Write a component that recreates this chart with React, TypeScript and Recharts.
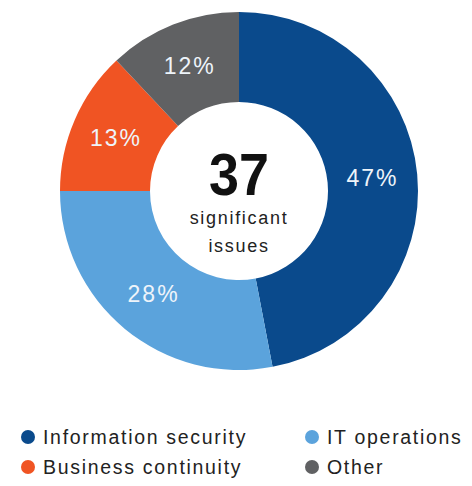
import { Cell, Legend, Pie, PieChart } from "recharts";

const categories = ["Information security", "IT operations", "Business continuity", "Other"];
const shares = [47, 28, 13, 12];
const colors = ["#0a4a8c", "#5ba3dc", "#f05423", "#606163"];
const totalIssues = 37;
const centerLines = ["significant", "issues"];

const data = categories.map((name, i) => ({ name, value: shares[i] }));

const FONT = "Arial, 'Liberation Sans', Helvetica, sans-serif";
const RAD = Math.PI / 180;
const CX = 239;
const CY = 191;

function SliceLabel(props: any) {
  const { cx, cy, midAngle, innerRadius, outerRadius, value } = props;
  const r = (innerRadius + outerRadius) / 2;
  const x = cx + r * Math.cos(-midAngle * RAD);
  const y = cy + r * Math.sin(-midAngle * RAD);
  return (
    <text
      x={x}
      y={y}
      fill="#eef4fa"
      fontSize={23}
      letterSpacing={2}
      fontFamily={FONT}
      textAnchor="middle"
      dominantBaseline="central"
    >
      {value}%
    </text>
  );
}

function LegendGrid() {
  return (
    <div
      style={{
        display: "grid",
        gridTemplateColumns: "284px auto",
        paddingLeft: 21,
        fontFamily: FONT,
        fontSize: 19.5,
        letterSpacing: 1.7,
        color: "#222",
      }}
    >
      {categories.map((name, i) => (
        <div key={name} style={{ display: "flex", alignItems: "center", height: 30 }}>
          <span
            style={{
              width: 14,
              height: 14,
              borderRadius: 7,
              background: colors[i],
              marginRight: 8,
              flex: "none",
            }}
          />
          <span>{name}</span>
        </div>
      ))}
    </div>
  );
}

export default function App() {
  return (
    <div>
      <style>{`body{margin:0;background:#fff}`}</style>
      <PieChart width={472} height={486} margin={{ top: 0, right: 0, bottom: 0, left: 0 }}>
        <Pie
          data={data}
          dataKey="value"
          nameKey="name"
          cx={CX}
          cy={CY}
          innerRadius={89}
          outerRadius={179}
          startAngle={90}
          endAngle={-270}
          stroke="none"
          labelLine={false}
          label={SliceLabel}
          isAnimationActive={false}
        >
          {data.map((d, i) => (
            <Cell key={d.name} fill={colors[i]} />
          ))}
        </Pie>
        <g fontFamily={FONT} textAnchor="middle">
          <text x={CX} y={CY + 4} fontSize={60} fontWeight="bold" fill="#111" textLength={60} lengthAdjust="spacingAndGlyphs">
            {totalIssues}
          </text>
          {centerLines.map((line, i) => (
            <text key={line} x={CX} y={CY + 33 + i * 28} fontSize={18} letterSpacing={1.7} fill="#222">
              {line}
            </text>
          ))}
        </g>
        <Legend content={LegendGrid} wrapperStyle={{ left: 0, top: 422, width: 472 }} />
      </PieChart>
    </div>
  );
}
